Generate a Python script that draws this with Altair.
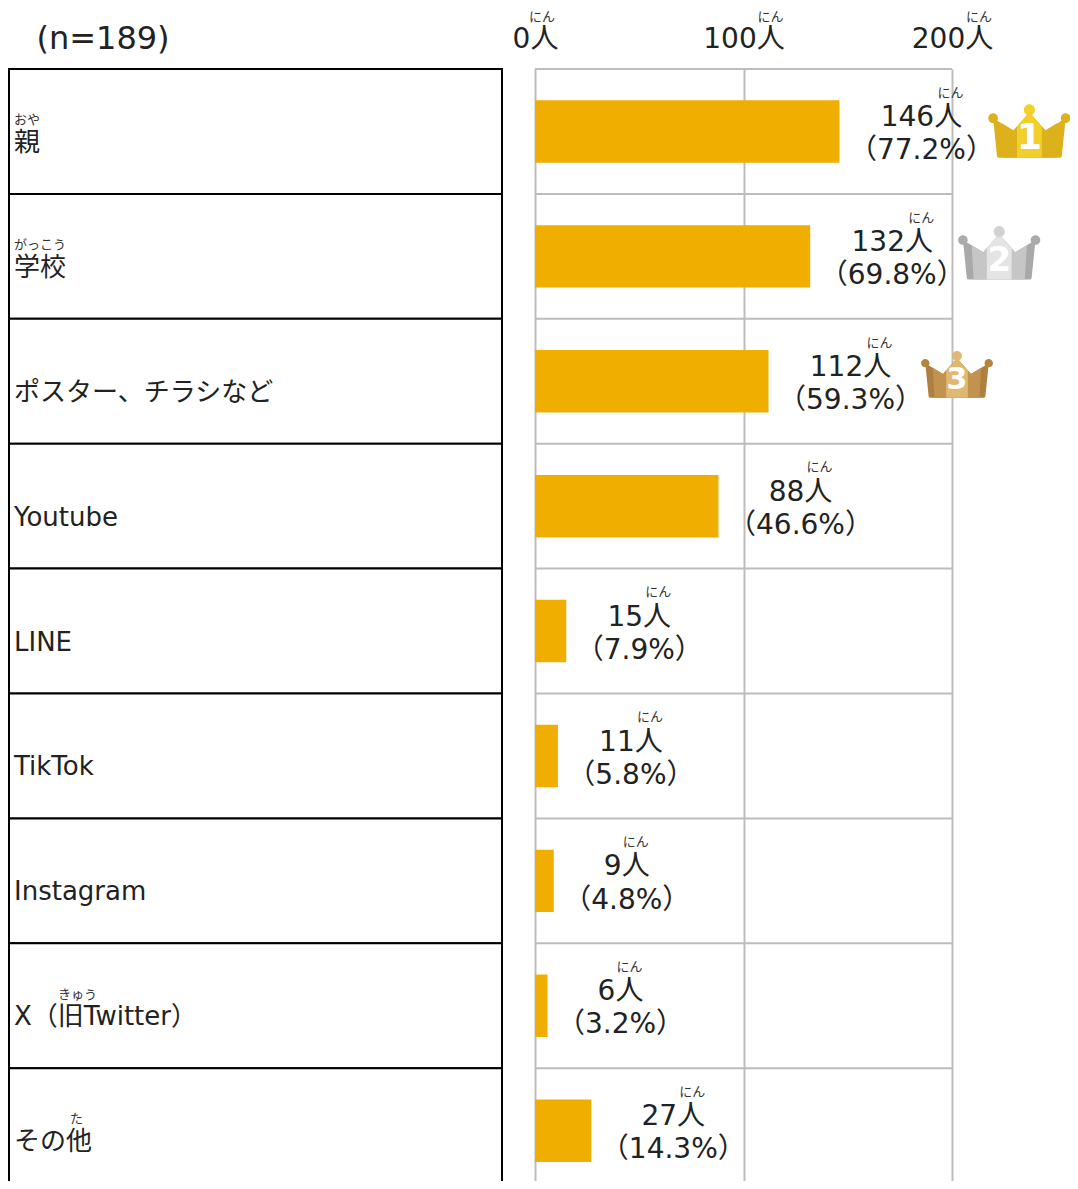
import altair as alt
import pandas as pd

categories = ["親", "学校", "ポスター、チラシなど", "Youtube", "LINE", "TikTok", "Instagram", "X（旧Twitter）", "その他"]
ruby = ["おや", "がっこう", "", "", "", "", "", "きゅう", "た"]
counts = [146, 132, 112, 88, 15, 11, 9, 6, 27]
percents = [77.2, 69.8, 59.3, 46.6, 7.9, 5.8, 4.8, 3.2, 14.3]
tick_values = [0, 100, 200]
sample_label = "(n=189)"
unit_ruby = "にん"
unit = "人"

FONT = "DejaVu Sans, Noto Sans CJK JP"
JP = "Noto Sans CJK JP"
PX = 417 / 200            # pixels per person
ROW = 124.9               # pixels per row
X0 = -527 / PX            # left edge of the plot
X1 = 535 / PX             # right edge of the plot
Y1 = 1112 / ROW           # bottom edge of the plot
px = lambda n: n / PX
rw = lambda n: n / ROW

n = len(categories)
rows = pd.DataFrame({
    "row": range(n),
    "mid": [i + 0.592 for i in range(n)],
    "rt": [i + 0.41 for i in range(n)],
    "top": [float(i) for i in range(n)],
    "bot": [float(i + 1) for i in range(n)],
    "b0": [i + 0.25 for i in range(n)],
    "b1": [i + 0.75 for i in range(n)],
    "category": categories,
    "ruby": ruby,
    "count": counts,
    "zero": [0] * n,
    "boxl": [X0 + px(1)] * n,
    "boxr": [px(-33)] * n,
    "textx": [X0 + px(6)] * n,
    "rubyx": [X0 + (px(6) if r != "た" and r != "きゅう" else (px(50) if r == "きゅう" else px(62))) for r in ruby],
})
rows["cnt"] = [f"{c}{unit}" for c in counts]
rows["pct"] = [f"（{p}%）" for p in percents]
rows["lx"] = [c + px(82 if len(str(p)) == 4 else 73) for c, p in zip(counts, percents)]
rows["ux"] = rows["lx"] + [px(10 * len(str(c)) - 1) for c in counts]
rows["y_cnt"] = [i + 0.393 for i in range(n)]
rows["y_pct"] = [i + 0.658 for i in range(n)]
rows["y_uru"] = [i + 0.19 for i in range(n)]

AX = alt.Axis(
    orient="top", values=tick_values, labelExpr=f"datum.value + '{unit}'", grid=True,
    gridColor="#BDBDBD", gridWidth=2, ticks=False, domain=False,
    labelFontSize=28, labelFont=FONT, labelColor="#222222", labelPadding=16,
    labelFlush=False, labelOverlap=False, title=None)
xs = alt.Scale(domain=[X0, X1], nice=False, zero=False)
ys = alt.Scale(domain=[Y1, 0], nice=False, zero=False)
X = lambda f: alt.X(f"{f}:Q", scale=xs, axis=AX)
Y = lambda f: alt.Y(f"{f}:Q", scale=ys, axis=None)

base = alt.Chart(rows)

bars = base.mark_bar(color="#F0AE00").encode(x=X("zero"), x2="count:Q", y=Y("b0"), y2="b1:Q")

frames = base.mark_rect(fill="white", stroke="black", strokeWidth=2).encode(
    x=X("boxl"), x2="boxr:Q", y=Y("top"), y2="bot:Q")

hlines = alt.Chart(pd.DataFrame({"y": [float(i) for i in range(n + 1)], "a": 0, "b": tick_values[-1]})).mark_rule(
    color="#BDBDBD", strokeWidth=2).encode(x=X("a"), x2="b:Q", y=Y("y"))

cat_text = base.mark_text(align="left", baseline="middle", fontSize=26, font=FONT, color="#222222").encode(
    x=X("textx"), y=Y("mid"), text="category:N")
cat_ruby = base.mark_text(align="left", baseline="middle", fontSize=13, font=JP, color="#333333").encode(
    x=X("rubyx"), y=Y("rt"), text="ruby:N")

cnt_text = base.mark_text(baseline="middle", fontSize=28, font=FONT, color="#222222").encode(
    x=X("lx"), y=Y("y_cnt"), text="cnt:N")
pct_text = base.mark_text(baseline="middle", fontSize=28, font=FONT, color="#222222").encode(
    x=X("lx"), y=Y("y_pct"), text="pct:N")
unit_rt = base.mark_text(baseline="middle", fontSize=13, font=JP, color="#333333").encode(
    x=X("ux"), y=Y("y_uru"), text=alt.value(unit_ruby))

top_ruby = alt.Chart(pd.DataFrame({"x": [v + px(27 if v else 7) for v in tick_values], "y": rw(-52), "t": unit_ruby})).mark_text(
    baseline="middle", fontSize=13, font=JP, color="#333333").encode(x=X("x"), y=Y("y"), text="t:N")

sample = alt.Chart(pd.DataFrame({"x": [px(103 - 535)], "y": [rw(-30)], "t": [sample_label]})).mark_text(
    baseline="middle", fontSize=32, font=FONT, color="#222222").encode(x=X("x"), y=Y("y"), text="t:N")

# crowns for the three largest rows
BODY = "M-.907 -.41 L-.40 -.10 L0 -.55 L.40 -.10 L.907 -.41 L.81 .54 Q.80 .58 .76 .58 L-.76 .58 Q-.80 .58 -.81 .54 Z"
MID = "M-.69 -.28 L-.40 -.10 L0 -.55 L.40 -.10 L.69 -.28 L.64 .58 L-.64 .58 Z"
CENTER = "M-.31 -.20 L0 -.55 L.31 -.20 L.31 .58 L-.31 .58 Z"
def ball(x, y, r=.10):
    return f"M{x - r} {y} a{r} {r} 0 1 0 {2 * r} 0 a{r} {r} 0 1 0 {-2 * r} 0 Z"
SIDE = ball(-.907, -.41, .12) + ball(.907, -.41, .12)
TOP = ball(0, -.62, .14)

crowns = []
specs = [
    (0, 40, 190, .525, .03, "1", 36, ["#DDB11C", "#DDB11C", "#F3CF2B", "#DDB11C", "#F3CF2B"]),
    (1, 40, 189, 1.50, .04, "2", 34, ["#A9A9A9", "#C6C6C6", "#E4E4E4", "#ABABAB", "#D2D2D2"]),
    (2, 35, 188.5, 2.47, .02, "3", 30, ["#AE7F3F", "#C2934F", "#E0B871", "#B5853F", "#E0B871"]),
]
for idx, u, off, yy, dy, digit, fs, cols in specs:
    d = pd.DataFrame({"x": [counts[idx] + px(off)], "y": [yy], "yt": [yy + dy], "t": [digit]})
    size = (2 * u) ** 2
    for path, col in [(BODY, cols[0]), (MID, cols[1]), (CENTER, cols[2]), (SIDE, cols[3]), (TOP, cols[4])]:
        crowns.append(alt.Chart(d).mark_point(shape=path, size=size, filled=True, fill=col, opacity=1, strokeWidth=0).encode(
            x=X("x"), y=Y("y")))
    crowns.append(alt.Chart(d).mark_text(baseline="middle", fontSize=fs, fontWeight="bold", font=FONT, color="white").encode(
        x=X("x"), y=Y("yt"), text="t:N"))

chart = alt.layer(frames, hlines, bars, cat_text, cat_ruby, *crowns, cnt_text, pct_text, unit_rt, top_ruby, sample).resolve_scale(
    x="shared", y="shared"
).properties(
    width=1062, height=1112,
    autosize=alt.AutoSizeParams(type="none"),
    padding={"left": 0, "right": 0, "top": 61, "bottom": 0},
).configure_view(stroke=None)

chart.save("out.html", embed_options={"renderer": "svg", "actions": False})
